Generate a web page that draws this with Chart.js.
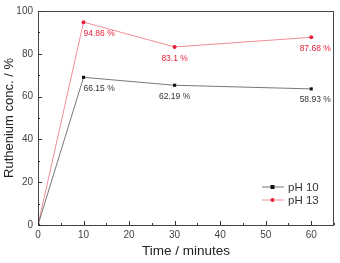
<!DOCTYPE html>
<html><head><meta charset="utf-8">
<script src="https://cdn.jsdelivr.net/npm/chart.js@4/dist/chart.umd.min.js"></script>
<style>html,body{margin:0;padding:0;background:#fff;}#w{width:340px;height:263px;}</style>
</head><body><div id="w"><canvas id="c" width="340" height="263"></canvas></div>
<script>
const times = [0, 10, 30, 60];
const seriesNames = ['pH 10', 'pH 13'];
const ph10 = [0, 69.0, 65.3, 63.6];
const ph13 = [0, 94.8, 83.2, 87.7];
const ph10Labels = ['', '66.15 %', '62.19 %', '58.93 %'];
const ph13Labels = ['', '94.86 %', '83.1 %', '87.68 %'];
const xTicks = [0, 10, 20, 30, 40, 50, 60];
const yTicks = [0, 20, 40, 60, 80, 100];

const FONT = 'Liberation Sans, Arial, sans-serif';
const RED = '#e4203c';

const framePlugin = {
  id: 'frame',
  afterDraw(chart) {
    const {ctx, chartArea: a, scales: {x, y}} = chart;
    ctx.save();
    ctx.strokeStyle = '#444';
    ctx.lineWidth = 1;
    ctx.strokeRect(a.left + 0.5, a.top + 0.5, a.right - a.left - 1, a.bottom - a.top);
    ctx.strokeStyle = '#333';
    ctx.beginPath();
    for (let v = 0; v <= 65; v += 5) {
      const px = Math.round(x.getPixelForValue(v)) + 0.5;
      const len = v % 10 === 0 ? 4 : 2;
      ctx.moveTo(px, a.bottom); ctx.lineTo(px, a.bottom - len);
    }
    for (let v = 0; v <= 100; v += 10) {
      const py = Math.round(y.getPixelForValue(v)) + 0.5;
      const len = v % 20 === 0 ? 4 : 2;
      ctx.moveTo(a.left, py); ctx.lineTo(a.left + len, py);
    }
    ctx.stroke();
    ctx.font = '8.5px ' + FONT;
    ctx.textBaseline = 'top';
    const labs = [ph10Labels, ph13Labels];
    chart.data.datasets.forEach((ds, di) => {
      const meta = chart.getDatasetMeta(di);
      ctx.fillStyle = di === 0 ? '#333' : RED;
      meta.data.forEach((pt, i) => {
        const t = labs[di][i];
        if (!t) return;
        const w = ctx.measureText(t).width;
        let lx;
        if (i === 1) lx = pt.x;
        else if (i === meta.data.length - 1) lx = pt.x - w / 2 + 4;
        else lx = pt.x - w / 2;
        ctx.fillText(t, lx, pt.y + 7);
      });
    });
    ctx.font = '11.5px ' + FONT;
    ctx.textBaseline = 'middle';
    chart.data.datasets.forEach((ds, di) => {
      const ly = 187 + di * 13;
      ctx.strokeStyle = ds.borderColor;
      ctx.lineWidth = 0.8;
      ctx.beginPath(); ctx.moveTo(262, ly); ctx.lineTo(284, ly); ctx.stroke();
      ctx.fillStyle = ds.pointBackgroundColor;
      if (di === 0) ctx.fillRect(270.5, ly - 2, 4, 4);
      else { ctx.beginPath(); ctx.arc(272.5, ly, 2, 0, Math.PI * 2); ctx.fill(); }
      ctx.fillStyle = '#333';
      ctx.fillText(ds.label, 288, ly + 0.5);
    });
    ctx.restore();
  }
};

new Chart(document.getElementById('c'), {
  type: 'line',
  data: {
    datasets: [
      {label: seriesNames[0], data: times.map((t, i) => ({x: t, y: ph10[i]})),
       borderColor: '#555', borderWidth: 0.8, pointStyle: 'rect', pointRadius: 2.2,
       pointBackgroundColor: '#111', pointBorderColor: '#111', pointBorderWidth: 0},
      {label: seriesNames[1], data: times.map((t, i) => ({x: t, y: ph13[i]})),
       borderColor: '#f07080', borderWidth: 0.8, pointStyle: 'circle', pointRadius: 2,
       pointBackgroundColor: RED, pointBorderColor: RED, pointBorderWidth: 0}
    ]
  },
  options: {
    responsive: false, animation: false, devicePixelRatio: 1,
    layout: {padding: {top: 9, right: 6, left: 2, bottom: 0}},
    plugins: {legend: {display: false}, tooltip: {enabled: false}},
    scales: {
      x: {type: 'linear', min: 0, max: 65,
          afterFit(s) { s.height = 38; },
          afterBuildTicks(s) { s.ticks = xTicks.map(v => ({value: v})); },
          grid: {display: false, drawTicks: false},
          border: {display: false},
          ticks: {color: '#444', font: {family: FONT, size: 10}, padding: 4, maxRotation: 0},
          title: {display: true, text: 'Time / minutes', color: '#222', font: {family: FONT, size: 13.5}, padding: {top: 8}}},
      y: {min: 0, max: 100,
          afterFit(s) { s.width = 36; },
          afterBuildTicks(s) { s.ticks = yTicks.map(v => ({value: v})); },
          grid: {display: false, drawTicks: false},
          border: {display: false},
          ticks: {color: '#444', font: {family: FONT, size: 10}, padding: 5},
          title: {display: true, text: 'Ruthenium conc. / %', color: '#222', font: {family: FONT, size: 13}, padding: 0}}
    }
  },
  plugins: [framePlugin]
});
</script></body></html>
